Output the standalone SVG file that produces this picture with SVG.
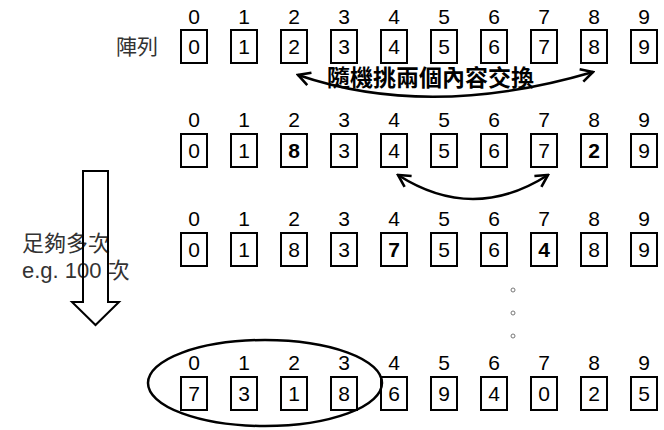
<svg xmlns="http://www.w3.org/2000/svg" width="664" height="430" viewBox="0 0 664 430">
<defs>
<style>
.b{fill:#fff;stroke:#000;stroke-width:2}
.t{font-family:"Liberation Sans","Noto Sans CJK TC",sans-serif;font-size:21px;fill:#000;text-anchor:middle}
.bd{font-weight:bold}
.lab{font-family:"Liberation Sans","Noto Sans CJK TC",sans-serif;fill:#333}
.con{fill:none;stroke:#000;stroke-width:2.5}
.dot{fill:none;stroke:#777;stroke-width:1}
</style>
<marker id="ah" viewBox="0 0 16 16" refX="14" refY="8" markerWidth="16" markerHeight="16" markerUnits="userSpaceOnUse" orient="auto-start-reverse">
<path d="M2,1.5 L14,8 L2,14.5" fill="none" stroke="#000" stroke-width="2.6"/>
</marker>
</defs>
<rect width="664" height="430" fill="#fff"/>

<text class="lab" x="116" y="54" font-size="21">陣列</text>

<!-- Row 1 -->
<g id="r1">
<g id="r1c0"><text class="t" x="194" y="24">0</text><rect class="b" x="181" y="30" width="26" height="33"/><text class="t" x="194" y="54">0</text></g>
<g id="r1c1"><text class="t" x="244" y="24">1</text><rect class="b" x="231" y="30" width="26" height="33"/><text class="t" x="244" y="54">1</text></g>
<g id="r1c2"><text class="t" x="294" y="24">2</text><rect class="b" x="281" y="30" width="26" height="33"/><text class="t" x="294" y="54">2</text></g>
<g id="r1c3"><text class="t" x="344" y="24">3</text><rect class="b" x="331" y="30" width="26" height="33"/><text class="t" x="344" y="54">3</text></g>
<g id="r1c4"><text class="t" x="394" y="24">4</text><rect class="b" x="381" y="30" width="26" height="33"/><text class="t" x="394" y="54">4</text></g>
<g id="r1c5"><text class="t" x="444" y="24">5</text><rect class="b" x="431" y="30" width="26" height="33"/><text class="t" x="444" y="54">5</text></g>
<g id="r1c6"><text class="t" x="494" y="24">6</text><rect class="b" x="481" y="30" width="26" height="33"/><text class="t" x="494" y="54">6</text></g>
<g id="r1c7"><text class="t" x="544" y="24">7</text><rect class="b" x="531" y="30" width="26" height="33"/><text class="t" x="544" y="54">7</text></g>
<g id="r1c8"><text class="t" x="594" y="24">8</text><rect class="b" x="581" y="30" width="26" height="33"/><text class="t" x="594" y="54">8</text></g>
<g id="r1c9"><text class="t" x="644" y="24">9</text><rect class="b" x="631" y="30" width="26" height="33"/><text class="t" x="644" y="54">9</text></g>
</g>

<!-- Row 2 -->
<g id="r2">
<g id="r2c0"><text class="t" x="194" y="127">0</text><rect class="b" x="181" y="134" width="26" height="33"/><text class="t" x="194" y="158">0</text></g>
<g id="r2c1"><text class="t" x="244" y="127">1</text><rect class="b" x="231" y="134" width="26" height="33"/><text class="t" x="244" y="158">1</text></g>
<g id="r2c2"><text class="t" x="294" y="127">2</text><rect class="b" x="281" y="134" width="26" height="33"/><text class="t bd" x="294" y="158">8</text></g>
<g id="r2c3"><text class="t" x="344" y="127">3</text><rect class="b" x="331" y="134" width="26" height="33"/><text class="t" x="344" y="158">3</text></g>
<g id="r2c4"><text class="t" x="394" y="127">4</text><rect class="b" x="381" y="134" width="26" height="33"/><text class="t" x="394" y="158">4</text></g>
<g id="r2c5"><text class="t" x="444" y="127">5</text><rect class="b" x="431" y="134" width="26" height="33"/><text class="t" x="444" y="158">5</text></g>
<g id="r2c6"><text class="t" x="494" y="127">6</text><rect class="b" x="481" y="134" width="26" height="33"/><text class="t" x="494" y="158">6</text></g>
<g id="r2c7"><text class="t" x="544" y="127">7</text><rect class="b" x="531" y="134" width="26" height="33"/><text class="t" x="544" y="158">7</text></g>
<g id="r2c8"><text class="t" x="594" y="127">8</text><rect class="b" x="581" y="134" width="26" height="33"/><text class="t bd" x="594" y="158">2</text></g>
<g id="r2c9"><text class="t" x="644" y="127">9</text><rect class="b" x="631" y="134" width="26" height="33"/><text class="t" x="644" y="158">9</text></g>
</g>

<!-- Row 3 -->
<g id="r3">
<g id="r3c0"><text class="t" x="194" y="226">0</text><rect class="b" x="181" y="233" width="26" height="33"/><text class="t" x="194" y="257">0</text></g>
<g id="r3c1"><text class="t" x="244" y="226">1</text><rect class="b" x="231" y="233" width="26" height="33"/><text class="t" x="244" y="257">1</text></g>
<g id="r3c2"><text class="t" x="294" y="226">2</text><rect class="b" x="281" y="233" width="26" height="33"/><text class="t" x="294" y="257">8</text></g>
<g id="r3c3"><text class="t" x="344" y="226">3</text><rect class="b" x="331" y="233" width="26" height="33"/><text class="t" x="344" y="257">3</text></g>
<g id="r3c4"><text class="t" x="394" y="226">4</text><rect class="b" x="381" y="233" width="26" height="33"/><text class="t bd" x="394" y="257">7</text></g>
<g id="r3c5"><text class="t" x="444" y="226">5</text><rect class="b" x="431" y="233" width="26" height="33"/><text class="t" x="444" y="257">5</text></g>
<g id="r3c6"><text class="t" x="494" y="226">6</text><rect class="b" x="481" y="233" width="26" height="33"/><text class="t" x="494" y="257">6</text></g>
<g id="r3c7"><text class="t" x="544" y="226">7</text><rect class="b" x="531" y="233" width="26" height="33"/><text class="t bd" x="544" y="257">4</text></g>
<g id="r3c8"><text class="t" x="594" y="226">8</text><rect class="b" x="581" y="233" width="26" height="33"/><text class="t" x="594" y="257">8</text></g>
<g id="r3c9"><text class="t" x="644" y="226">9</text><rect class="b" x="631" y="233" width="26" height="33"/><text class="t" x="644" y="257">9</text></g>
</g>

<!-- Row 4 -->
<g id="r4">
<g id="r4c0"><text class="t" x="194" y="370">0</text><rect class="b" x="181" y="377" width="26" height="33"/><text class="t" x="194" y="401">7</text></g>
<g id="r4c1"><text class="t" x="244" y="370">1</text><rect class="b" x="231" y="377" width="26" height="33"/><text class="t" x="244" y="401">3</text></g>
<g id="r4c2"><text class="t" x="294" y="370">2</text><rect class="b" x="281" y="377" width="26" height="33"/><text class="t" x="294" y="401">1</text></g>
<g id="r4c3"><text class="t" x="344" y="370">3</text><rect class="b" x="331" y="377" width="26" height="33"/><text class="t" x="344" y="401">8</text></g>
<g id="r4c4"><text class="t" x="394" y="370">4</text><rect class="b" x="381" y="377" width="26" height="33"/><text class="t" x="394" y="401">6</text></g>
<g id="r4c5"><text class="t" x="444" y="370">5</text><rect class="b" x="431" y="377" width="26" height="33"/><text class="t" x="444" y="401">9</text></g>
<g id="r4c6"><text class="t" x="494" y="370">6</text><rect class="b" x="481" y="377" width="26" height="33"/><text class="t" x="494" y="401">4</text></g>
<g id="r4c7"><text class="t" x="544" y="370">7</text><rect class="b" x="531" y="377" width="26" height="33"/><text class="t" x="544" y="401">0</text></g>
<g id="r4c8"><text class="t" x="594" y="370">8</text><rect class="b" x="581" y="377" width="26" height="33"/><text class="t" x="594" y="401">2</text></g>
<g id="r4c9"><text class="t" x="644" y="370">9</text><rect class="b" x="631" y="377" width="26" height="33"/><text class="t" x="644" y="401">5</text></g>
</g>

<g id="dots">
<circle class="dot" cx="513" cy="290" r="2"/>
<circle class="dot" cx="513" cy="313" r="2"/>
<circle class="dot" cx="513" cy="336" r="2"/>
</g>

<g id="group-ellipse"><ellipse cx="265" cy="383" rx="117" ry="43" fill="none" stroke="#000" stroke-width="2.5"/></g>

<g id="repeat">
<text class="lab" x="22" y="251" font-size="22">足夠多次</text>
<text class="lab" x="22" y="278" font-size="22">e.g. 100 次</text>
<polygon points="83,171 108,171 108,302 119,302 95.5,325 72,302 83,302" fill="none" stroke="#000" stroke-width="2"/>
</g>

<g id="connectors">
<path class="con" d="M298,75 Q430,120 593,72" marker-start="url(#ah)" marker-end="url(#ah)"/>
<path class="con" d="M398,175 Q473,223 548,175" marker-start="url(#ah)" marker-end="url(#ah)"/>
</g>

<text x="327" y="86" font-family="Liberation Sans,Noto Sans CJK TC,sans-serif" font-size="23" font-weight="bold" fill="#000">隨機挑兩個內容交換</text>
</svg>
